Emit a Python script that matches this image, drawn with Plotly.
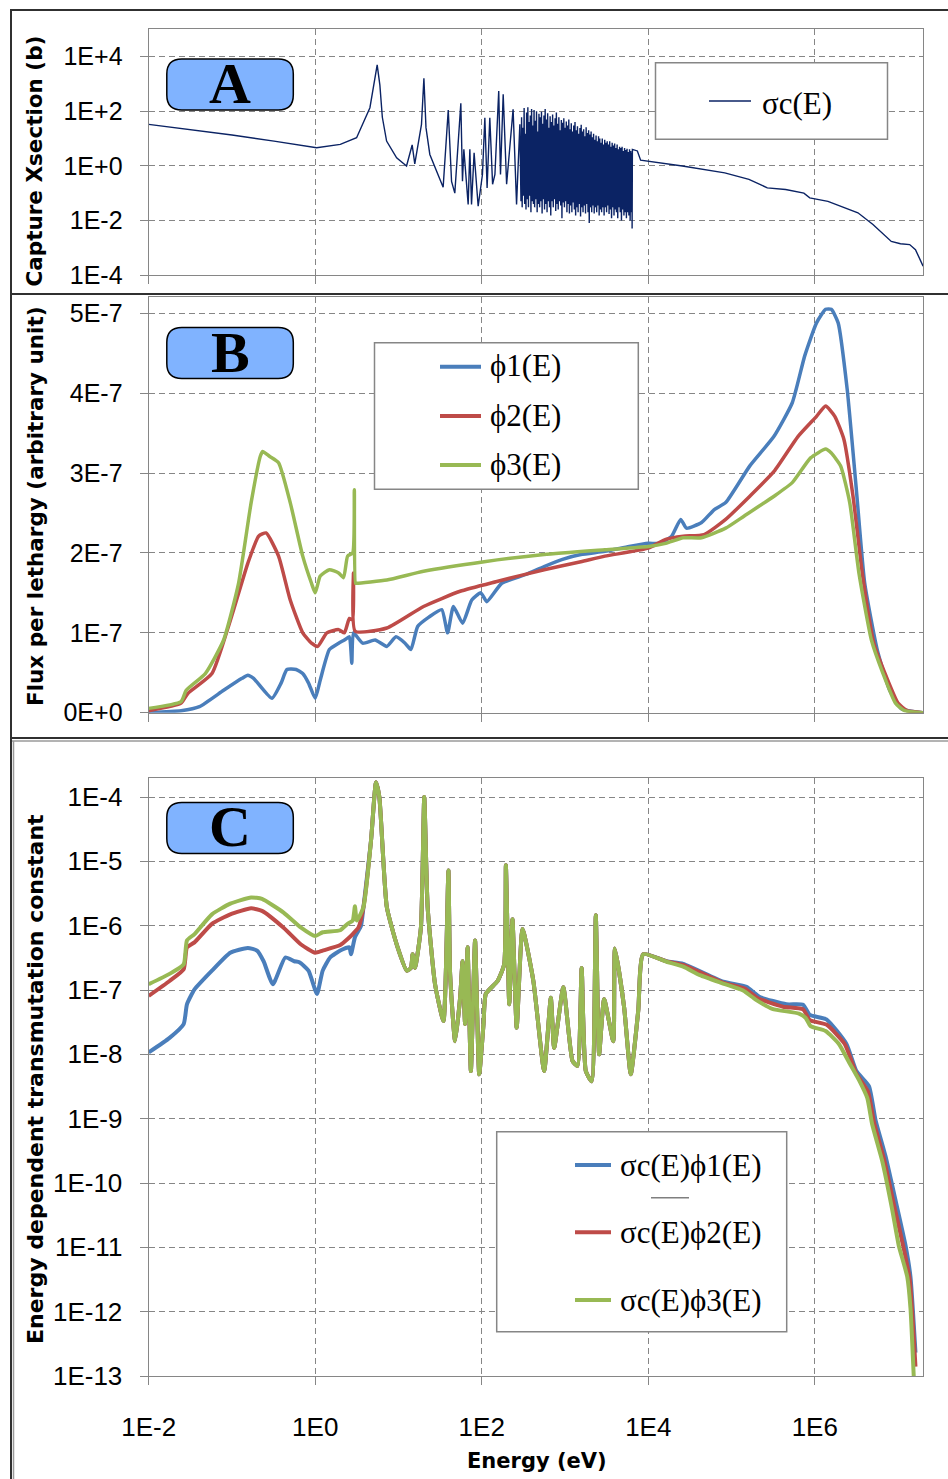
import plotly.graph_objects as go

W, H = 948, 1479

# ---------------- Panel A: capture cross section (b) ----------------
xs_energy = [
    0.01, 0.032, 0.1, 0.32, 1.04, 2.0, 3.14, 4.54, 5.21, 5.55, 5.98, 6.4, 7.2, 9.5,
    12.5, 14.6, 15.7, 18.9, 20.2, 21.4, 23.8, 34.4, 39.6, 43.4, 47.5, 56.1, 58.7,
    61, 68.7, 72, 75.4, 81, 90.6, 102, 109, 116, 125, 135, 144, 160, 168, 181,
    199, 238, 262, 287,
    # unresolved-looking dense resonance block
    296, 301, 306, 312, 317, 323, 328, 334, 340, 346,
    352, 358, 364, 370, 377, 383, 390, 397, 404, 411,
    418, 425, 432, 440, 447, 455, 463, 471, 479, 487,
    496, 504, 513, 522, 531, 540, 549, 559, 568, 578,
    588, 598, 609, 619, 630, 641, 652, 663, 675, 686,
    698, 710, 723, 735, 748, 761, 774, 788, 801, 815,
    829, 844, 858, 873, 888, 904, 919, 935, 952, 968,
    985, 1002, 1019, 1037, 1055, 1073, 1092, 1111, 1130, 1149,
    1169, 1190, 1210, 1231, 1252, 1274, 1296, 1319, 1342, 1365,
    1388, 1412, 1437, 1462, 1487, 1513, 1539, 1565, 1592, 1620,
    1648, 1676, 1705, 1735, 1765, 1795, 1826, 1858, 1890, 1923,
    1956, 1990, 2024, 2059, 2095, 2131, 2168, 2205, 2243, 2282,
    2321, 2362, 2402, 2444, 2486, 2529, 2573, 2617, 2662, 2708,
    2755, 2803, 2851, 2900, 2950, 3001, 3053, 3106, 3160, 3214,
    3270, 3326, 3384, 3442, 3502, 3562, 3624, 3686, 3750, 3815,
    3881, 3948, 4016, 4085, 4156, 4228, 4301, 4375, 4451, 4528,
    4606, 4686, 4767, 4849, 4933, 5019, 5106, 5194, 5284, 5375,
    5468, 5563, 5659, 5757, 5856, 5958, 6061, 6165, 6272, 6380,
    # smooth high-energy tail
    6400, 6450, 7400, 8100, 25700, 83000, 162000, 269000, 447000, 740000,
    870000, 1.44e6, 3.3e6, 5.0e6, 8.3e6, 1.07e7, 1.38e7, 1.62e7, 2.0e7,
]
xs_capture = [
    33, 21, 13.5, 8.0, 4.6, 6.1, 10.7, 134, 1290, 5000, 900, 60, 8.1, 1.97,
    0.98, 5.8, 1.18, 33, 1600, 25, 2.6, 0.165, 110, 0.27, 0.10, 195, 0.27,
    4.0, 0.038, 4.0, 0.038, 3.0, 0.033, 0.48, 58, 0.155, 58, 0.21, 0.48, 550, 0.48, 415,
    0.21, 117, 0.038, 33,
    0.05, 60, 0.03, 25, 0.08, 130, 0.04, 15, 0.025, 90,
    0.06, 140, 0.03, 40, 0.08, 70, 0.02, 120, 0.05, 30,
    0.04, 110, 0.03, 45, 0.06, 100, 0.02, 18, 0.04, 80,
    0.03, 60, 0.05, 95, 0.018, 35, 0.06, 70, 0.025, 120,
    0.04, 50, 0.02, 85, 0.05, 25, 0.03, 65, 0.015, 40,
    0.05, 75, 0.03, 30, 0.06, 55, 0.022, 90, 0.04, 35,
    0.025, 60, 0.05, 20, 0.035, 48, 0.012, 38, 0.045, 55,
    0.03, 25, 0.05, 42, 0.02, 30, 0.04, 50, 0.018, 22,
    0.035, 36, 0.02, 18, 0.045, 30, 0.025, 40, 0.015, 20,
    0.03, 28, 0.02, 15, 0.04, 24, 0.014, 32, 0.03, 18,
    0.02, 22, 0.035, 12, 0.018, 26, 0.04, 16, 0.02, 20,
    0.008, 14, 0.03, 18, 0.02, 11, 0.035, 15, 0.018, 9,
    0.03, 13, 0.02, 8, 0.035, 12, 0.015, 10, 0.025, 7,
    0.02, 10, 0.03, 6, 0.015, 9, 0.03, 7, 0.02, 8,
    0.035, 6, 0.017, 8, 0.025, 5, 0.012, 7, 0.03, 5.5,
    0.015, 6.5, 0.025, 4.5, 0.02, 6, 0.012, 4, 0.03, 5,
    0.02, 4.5, 0.01, 5, 0.025, 3.5, 0.015, 4.5, 0.02, 3.8,
    0.012, 4.2, 0.02, 3.2, 0.015, 4, 0.01, 3.5, 0.02, 3,
    0.005, 4, 3.5, 1.6, 0.98, 0.55, 0.32, 0.156, 0.135, 0.10,
    0.067, 0.05, 0.019, 0.0071, 0.0017, 0.0014, 0.0013, 0.00085, 0.00021,
]

# ---------------- Panel B: flux per lethargy ----------------
phi1_energy = [
    0.01, 0.0245, 0.0407, 0.0794, 0.132, 0.155, 0.182, 0.302, 0.389, 0.457, 0.589,
    0.708, 0.832, 1.0, 1.15, 1.48, 1.91, 2.24, 2.57, 2.75, 2.88, 3.72, 5.25, 7.24,
    9.33, 12.0, 14.1, 17.0, 23.4, 33.1, 38.9, 45.7, 58.9, 75.9, 97.7, 115, 174, 339,
    562, 933, 1550, 3020, 5890, 10000, 13800, 19100, 24500, 28800, 43700, 61700,
    85100, 166000, 324000, 537000, 759000, 1.05e6, 1.35e6, 1.58e6, 1.91e6, 2.45e6,
    3.16e6, 3.98e6, 5.62e6, 7.94e6, 1.1e7, 2.0e7,
]
phi1_flux = [
    0.0, 0.025, 0.075, 0.28, 0.43, 0.47, 0.43, 0.18, 0.37, 0.54, 0.54,
    0.49, 0.37, 0.18, 0.41, 0.79, 0.87, 0.91, 0.95, 0.62, 1.0, 0.87, 0.91, 0.83,
    0.95, 0.87, 0.79, 1.08, 1.20, 1.29, 1.0, 1.33, 1.12, 1.41, 1.50, 1.39, 1.62, 1.73,
    1.83, 1.92, 1.98, 2.02, 2.08, 2.12, 2.12, 2.21, 2.42, 2.31, 2.38, 2.54,
    2.63, 3.09, 3.46, 3.88, 4.47, 4.88, 5.05, 5.05, 4.88, 4.05,
    2.79, 1.62, 0.79, 0.28, 0.05, 0.0,
]
phi2_energy = [
    0.01, 0.0245, 0.0295, 0.0575, 0.0933, 0.155, 0.209, 0.257, 0.363, 0.501, 0.708,
    0.902, 1.07, 1.38, 1.91, 2.24, 2.57, 2.82, 2.88, 3.02, 7.24, 20.0, 55.0, 148,
    562, 1550, 3020, 10000, 16200, 26300, 46800, 85100, 166000, 324000, 631000,
    1.05e6, 1.35e6, 1.74e6, 2.24e6, 2.88e6, 3.72e6, 5.13e6, 7.24e6, 1.0e7, 1.29e7, 2.0e7,
]
phi2_flux = [
    0.025, 0.12, 0.24, 0.49, 1.12, 1.87, 2.21, 2.25, 1.96, 1.41, 1.0,
    0.87, 0.83, 1.0, 1.04, 1.0, 1.18, 1.16, 1.75, 1.02, 1.06, 1.33, 1.52, 1.64,
    1.79, 1.89, 1.96, 2.06, 2.17, 2.21, 2.23, 2.42, 2.71, 3.02, 3.46,
    3.71, 3.84, 3.71, 3.42, 2.71, 1.75, 0.87, 0.45, 0.12, 0.025, 0.0,
]
phi3_energy = [
    0.01, 0.0245, 0.0282, 0.0479, 0.0794, 0.120, 0.170, 0.219, 0.234, 0.282, 0.363,
    0.501, 0.708, 0.902, 1.0, 1.15, 1.48, 1.91, 2.19, 2.45, 2.82, 2.95, 3.05, 3.16,
    7.24, 20.0, 107, 562, 3020, 10000, 16200, 26300, 43700, 85100, 141000, 324000,
    537000, 891000, 1.35e6, 1.58e6, 2.04e6, 2.63e6, 3.39e6, 4.79e6, 6.61e6, 9.33e6,
    1.2e7, 2.0e7,
]
phi3_flux = [
    0.054, 0.14, 0.28, 0.49, 0.91, 1.62, 2.63, 3.21, 3.27, 3.21, 3.13,
    2.63, 1.96, 1.62, 1.50, 1.71, 1.79, 1.75, 1.69, 1.96, 2.0, 2.79, 1.62, 1.62,
    1.66, 1.77, 1.89, 1.98, 2.04, 2.08, 2.12, 2.19, 2.19, 2.31, 2.46, 2.71,
    2.88, 3.19, 3.30, 3.25, 3.09, 2.63, 1.75, 0.91, 0.49, 0.12,
    0.025, 0.0,
]
FLUX_UNIT = 1e-7

# ---------------- Panel C: sigma_c * phi ----------------
# thermal / epithermal part, one per spectrum
c1_low_energy = [0.01, 0.0178, 0.0263, 0.0288, 0.0355, 0.0575, 0.0955, 0.155, 0.2, 0.24,
                 0.31, 0.437, 0.56, 0.645, 0.83, 1.05, 1.23, 1.51, 2.0, 2.57, 2.69, 3.0, 3.55]
c1_low_value = [1.07e-8, 1.8e-8, 2.95e-8, 6.0e-8, 1.02e-7, 2.0e-7, 3.8e-7, 4.5e-7, 4.1e-7, 2.8e-7,
                1.23e-7, 3.2e-7, 2.8e-7, 2.7e-7, 2.0e-7, 8.7e-8, 2.0e-7, 3.2e-7, 4.1e-7, 4.6e-7,
                3.6e-7, 6.6e-7, 1.0e-6]
c2_low_energy = [0.01, 0.0178, 0.0263, 0.0288, 0.0355, 0.0575, 0.0955, 0.17, 0.229, 0.417,
                 0.676, 1.0, 1.23, 2.0, 2.45, 2.82, 3.3]
c2_low_value = [8.1e-8, 1.38e-7, 2.1e-7, 4.6e-7, 5.5e-7, 1.07e-6, 1.5e-6, 1.86e-6, 1.7e-6, 9.3e-7,
                5.1e-7, 3.8e-7, 4.1e-7, 5.0e-7, 6.2e-7, 7.4e-7, 9.3e-7]
c3_low_energy = [0.01, 0.0178, 0.0263, 0.0288, 0.0355, 0.0575, 0.0955, 0.17, 0.229, 0.417,
                 0.676, 1.0, 1.23, 2.0, 2.45, 2.82, 3.0, 3.16]
c3_low_value = [1.23e-7, 1.78e-7, 2.5e-7, 5.9e-7, 7.4e-7, 1.5e-6, 2.2e-6, 2.75e-6, 2.6e-6, 1.6e-6,
                9.3e-7, 6.9e-7, 7.9e-7, 8.5e-7, 1.07e-6, 1.2e-6, 2.0e-6, 1.2e-6]

# resolved resonance region (the three spectra coincide here)
c_res_energy = [3.8, 4.68, 5.37, 5.89, 7.24, 9.77, 12.6, 14.1, 14.8, 15.8, 18.6, 20.4, 22.4,
                27.5, 34.7, 39.8, 41.7, 47.9, 55, 58.9, 63.1, 67.6, 74.1, 83.2, 93.3, 105,
                112, 155, 186, 195, 214, 234, 263, 309, 417, 562, 676, 741, 955, 1230,
                1413, 1585, 1778, 2089, 2344, 2570, 2951, 3802, 3981, 5129, 6166, 7586, 8710]
c_res_value = [1.95e-6, 2.1e-5, 1.7e-4, 1.0e-4, 1.95e-6, 4.6e-7, 2.0e-7, 2.2e-7, 3.6e-7, 2.2e-7,
               9.3e-7, 1.0e-4, 1.95e-6, 1.23e-7, 3.3e-8, 7.2e-6, 1.78e-7, 1.6e-8, 7.6e-8,
               2.8e-7, 2.95e-8, 4.6e-7, 5.5e-9, 5.9e-7, 4.9e-9, 2.95e-8, 8.7e-8, 1.38e-7,
               2.5e-7, 8.7e-6, 6.0e-8, 1.26e-6, 2.6e-8, 8.9e-7, 1.38e-7, 5.5e-9, 7.6e-8,
               1.26e-8, 1.1e-7, 7.9e-9, 6.6e-9, 2.2e-7, 5.5e-9, 3.8e-9, 1.45e-6, 1.0e-8,
               7.2e-8, 1.6e-8, 4.4e-7, 5.4e-8, 4.9e-9, 4.8e-8, 3.6e-7]

# fast part, one per spectrum
c1_high_energy = [16600, 26300, 79400, 151000, 219000, 457000, 724000, 871000, 1.38e6, 2.4e6,
                  3.16e6, 4.47e6, 5.37e6, 7.08e6, 9.33e6, 1.23e7, 1.41e7, 1.62e7]
c1_high_value = [2.8e-7, 2.55e-7, 1.35e-7, 1.12e-7, 7.8e-8, 6.0e-8, 5.9e-8, 4.1e-8, 3.5e-8, 1.45e-8,
                 5.5e-9, 3.2e-9, 9.5e-10, 2.6e-10, 5.4e-11, 1.07e-11, 3.5e-12, 2.3e-13]
c2_high_energy = [16600, 26300, 79400, 144000, 209000, 417000, 724000, 871000, 1.38e6, 2.29e6,
                  3.16e6, 4.37e6, 5.13e6, 6.76e6, 8.9e6, 1.15e7, 1.38e7, 1.62e7]
c2_high_value = [2.78e-7, 2.45e-7, 1.3e-7, 1.05e-7, 7.4e-8, 5.5e-8, 5.0e-8, 3.4e-8, 2.9e-8, 1.45e-8,
                 5.0e-9, 2.6e-9, 8.9e-10, 2.4e-10, 4.7e-11, 1.07e-11, 3.2e-12, 1.4e-13]
c3_high_energy = [16600, 26300, 41700, 79400, 138000, 195000, 309000, 646000, 776000, 891000,
                  1.35e6, 1.95e6, 2.57e6, 3.39e6, 4.27e6, 4.9e6, 6.46e6, 8.5e6, 1.02e7, 1.29e7,
                  1.41e7, 1.55e7]
c3_high_value = [2.75e-7, 2.3e-7, 1.7e-7, 1.26e-7, 9.8e-8, 7.1e-8, 5.1e-8, 4.3e-8, 3.7e-8, 2.75e-8,
                 2.3e-8, 1.45e-8, 7.6e-9, 4.0e-9, 2.1e-9, 8.1e-10, 2.2e-10, 3.9e-11, 1.07e-11,
                 3.5e-12, 1.15e-12, 8.9e-14]

x_tickvals = [1e-2, 1, 1e2, 1e4, 1e6]
x_ticktext = ["1E-2", "1E0", "1E2", "1E4", "1E6"]
a_tickvals = [1e4, 1e2, 1, 1e-2, 1e-4]
a_ticktext = ["1E+4", "1E+2", "1E+0", "1E-2", "1E-4"]
b_tickvals = [0, 1e-7, 2e-7, 3e-7, 4e-7, 5e-7]
b_ticktext = ["0E+0", "1E-7", "2E-7", "3E-7", "4E-7", "5E-7"]
c_tickvals = [1e-4, 1e-5, 1e-6, 1e-7, 1e-8, 1e-9, 1e-10, 1e-11, 1e-12, 1e-13]
c_ticktext = ["1E-4", "1E-5", "1E-6", "1E-7", "1E-8", "1E-9", "1E-10", "1E-11", "1E-12", "1E-13"]

NAVY = "#0b2364"
BLUE = "#4a7ebb"
RED = "#be4b48"
GREEN = "#98b954"
GRID = "#868686"


def px(x):
    return x / W


def py(y):
    return 1 - y / H


fig = go.Figure()

fig.add_trace(go.Scatter(x=xs_energy, y=xs_capture, mode="lines",
                         line=dict(color=NAVY, width=1.4), xaxis="x3", yaxis="y3"))

for e, f, col in [(phi1_energy, phi1_flux, BLUE), (phi2_energy, phi2_flux, RED),
                  (phi3_energy, phi3_flux, GREEN)]:
    fig.add_trace(go.Scatter(x=e, y=[v * FLUX_UNIT for v in f], mode="lines",
                             line=dict(color=col, width=3.5, shape="spline", smoothing=0.5),
                             xaxis="x2", yaxis="y2"))

for le, lv, he, hv, col in [
    (c1_low_energy, c1_low_value, c1_high_energy, c1_high_value, BLUE),
    (c2_low_energy, c2_low_value, c2_high_energy, c2_high_value, RED),
    (c3_low_energy, c3_low_value, c3_high_energy, c3_high_value, GREEN),
]:
    fig.add_trace(go.Scatter(x=le + c_res_energy + he, y=lv + c_res_value + hv, mode="lines",
                             line=dict(color=col, width=4, shape="spline", smoothing=0.5),
                             xaxis="x", yaxis="y"))

tick_family = "Liberation Sans, Arial, sans-serif"
xcommon = dict(type="log", range=[-2, 7.3], domain=[px(148.7), px(923)],
               tickvals=x_tickvals, showgrid=True, gridcolor=GRID, griddash="6px,4px",
               gridwidth=1, showline=True, linecolor=GRID, linewidth=1.3, mirror=True,
               ticks="outside", ticklen=8, tickcolor=GRID, tickwidth=1.3, zeroline=False,
               automargin=False,
               tickfont=dict(family=tick_family, size=26, color="#000000"))
ycommon = dict(showgrid=True, gridcolor=GRID, griddash="6px,4px", gridwidth=1,
               showline=True, linecolor=GRID, linewidth=1.3, mirror=True,
               ticks="outside", ticklen=8, tickcolor=GRID, tickwidth=1.3, zeroline=False,
               automargin=False, ticklabelstandoff=12,
               tickfont=dict(family=tick_family, size=25, color="#000000"))

fig.update_layout(
    template="none",
    width=W, height=H,
    margin=dict(l=0, r=0, t=0, b=0),
    paper_bgcolor="white", plot_bgcolor="white",
    showlegend=False,
    xaxis=dict(xcommon, anchor="y", ticktext=x_ticktext, ticklabelstandoff=20),
    xaxis2=dict(xcommon, anchor="y2", showticklabels=False),
    xaxis3=dict(xcommon, anchor="y3", showticklabels=False),
    yaxis=dict(ycommon, type="log", range=[-13, -3.7], domain=[py(1376), py(777.7)],
               tickvals=c_tickvals, ticktext=c_ticktext, anchor="x",
               tickfont=dict(family=tick_family, size=26, color="#000000")),
    yaxis2=dict(ycommon, range=[0, 5.2e-7], domain=[py(712.7), py(297.3)],
                tickvals=b_tickvals, ticktext=b_ticktext, anchor="x2"),
    yaxis3=dict(ycommon, type="log", range=[-4, 5], domain=[py(275), py(29.3)],
                tickvals=a_tickvals, ticktext=a_ticktext, anchor="x3"),
)

shapes = []
annotations = []


def hline(x0, x1, y, color, width):
    shapes.append(dict(type="line", xref="paper", yref="paper", x0=px(x0), x1=px(x1),
                       y0=py(y), y1=py(y), line=dict(color=color, width=width)))


def vline(x, y0, y1, color, width):
    shapes.append(dict(type="line", xref="paper", yref="paper", x0=px(x), x1=px(x),
                       y0=py(y0), y1=py(y1), line=dict(color=color, width=width)))


def box(x0, y0, x1, y1, color, width, fill):
    shapes.append(dict(type="rect", xref="paper", yref="paper", x0=px(x0), x1=px(x1),
                       y0=py(y1), y1=py(y0), line=dict(color=color, width=width),
                       fillcolor=fill, layer="above"))


def rounded_box(x0, y0, x1, y1, r):
    pts = [("M", x0 + r, y0), ("L", x1 - r, y0), ("Q", x1, y0, x1, y0 + r),
           ("L", x1, y1 - r), ("Q", x1, y1, x1 - r, y1), ("L", x0 + r, y1),
           ("Q", x0, y1, x0, y1 - r), ("L", x0, y0 + r), ("Q", x0, y0, x0 + r, y0)]
    path = ""
    for p in pts:
        cmd, coords = p[0], p[1:]
        s = " ".join("%.5f,%.5f" % (px(coords[i]), py(coords[i + 1]))
                     for i in range(0, len(coords), 2))
        path += cmd + s + " "
    shapes.append(dict(type="path", xref="paper", yref="paper", path=path + "Z",
                       line=dict(color="black", width=1.5), fillcolor="#80b3ff",
                       layer="above"))


def text(x, y, s, size, family, bold=False, anchor="center", angle=0):
    annotations.append(dict(xref="paper", yref="paper", x=px(x), y=py(y), text=s,
                            showarrow=False, xanchor=anchor, yanchor="middle",
                            textangle=angle,
                            font=dict(family=family, size=size, color="black",
                                      weight="bold" if bold else "normal")))


# chart frames
hline(10, 948, 10, "#303030", 2)
hline(10, 948, 294, "#303030", 2)
hline(10, 948, 738, "#303030", 2)
hline(10, 948, 741, "#9a9a9a", 1.5)
vline(11, 10, 1479, "#303030", 2)
vline(13.5, 741, 1479, "#9a9a9a", 1.5)

# panel tags
serif = "Liberation Serif, Times New Roman, serif"
for (y0, y1, tag) in [(59, 110, "A"), (327.5, 378.5, "B"), (802.5, 853.5, "C")]:
    rounded_box(166.8, y0, 293.3, y1, 15)
    text(230, (y0 + y1) / 2 - 1, tag, 58, serif, bold=True)

# axis titles
sans_bold = "DejaVu Sans, Verdana, sans-serif"
text(34, 161.5, "Capture Xsection (b)", 21.5, sans_bold, bold=True, angle=-90)
text(35.5, 506.5, "Flux per lethargy (arbitrary unit)", 21.5, sans_bold, bold=True, angle=-90)
text(35, 1079, "Energy dependent transmutation constant", 22, sans_bold, bold=True, angle=-90)
text(537, 1461, "Energy (eV)", 21, sans_bold, bold=True)

# legend A
box(655.5, 62.7, 887.5, 139.3, GRID, 1.5, "white")
hline(709, 751, 101, NAVY, 1.5)
text(760, 103, "σc(E)", 31, serif, anchor="left")

# legend B
box(374.5, 342.7, 638.3, 489.3, GRID, 1.5, "white")
for y, col, lab in [(366.7, BLUE, "ϕ1(E)"), (416, RED, "ϕ2(E)"), (465, GREEN, "ϕ3(E)")]:
    hline(440, 481, y, col, 4)
    text(488, y - 1, lab, 31, serif, anchor="left")

# legend C
box(496.7, 1131.7, 786.7, 1331.7, GRID, 1.5, "white")
for y, col, lab in [(1165, BLUE, "σc(E)ϕ1(E)"), (1232.3, RED, "σc(E)ϕ2(E)"),
                    (1300, GREEN, "σc(E)ϕ3(E)")]:
    hline(575, 611, y, col, 4)
    text(618, y, lab, 31, serif, anchor="left")
hline(651, 689, 1197.7, "#7f7f7f", 1.5)

fig.update_layout(shapes=shapes, annotations=annotations)
fig.write_html("out.html", config={"displayModeBar": False})
